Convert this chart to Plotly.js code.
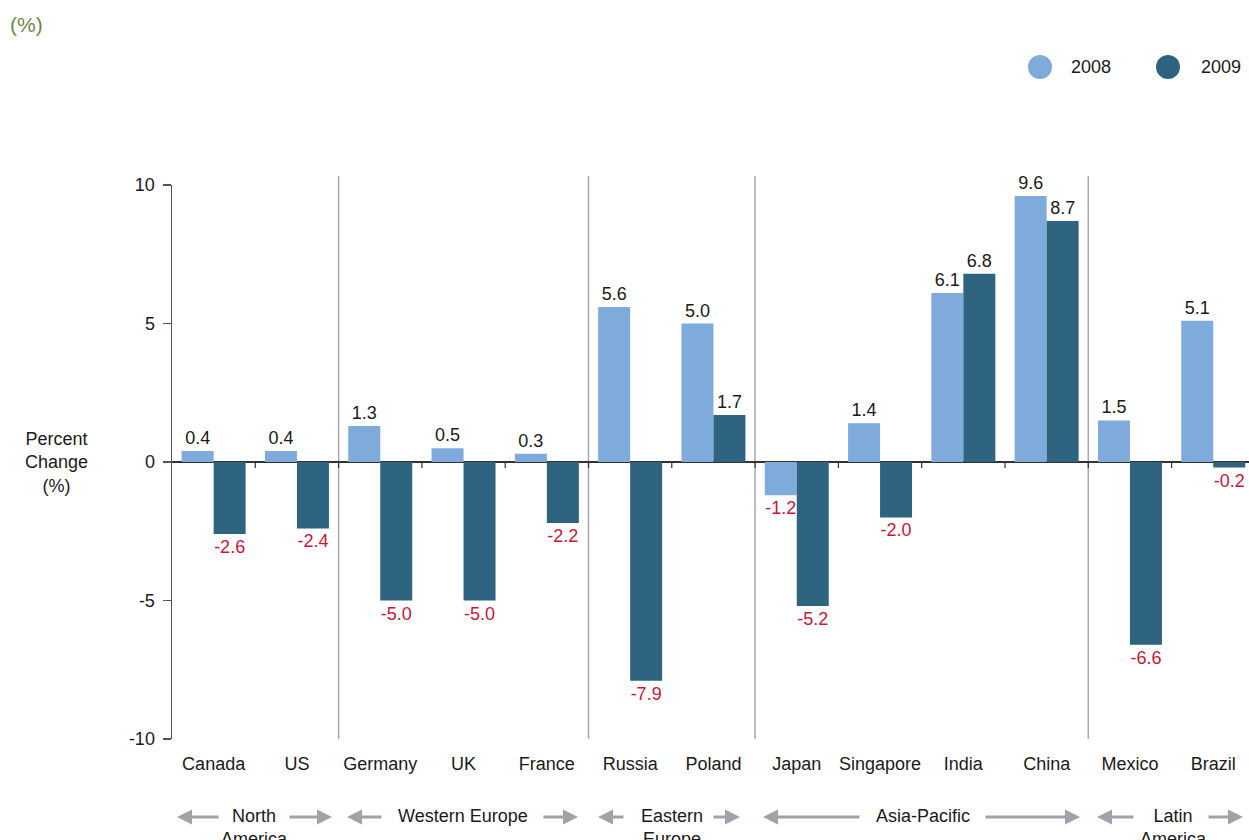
<!DOCTYPE html>
<html>
<head>
<meta charset="utf-8">
<script src="https://cdn.plot.ly/plotly-3.0.1.min.js"></script>
<style>
  html, body { margin: 0; padding: 0; background: #fff; }
  #chart { width: 1249px; height: 840px; }
</style>
</head>
<body>
<div id="chart"></div>
<script>
// ---------------- DATA ----------------
const countries = ["Canada", "US", "Germany", "UK", "France", "Russia", "Poland",
                   "Japan", "Singapore", "India", "China", "Mexico", "Brazil"];
const values2008 = [0.4, 0.4, 1.3, 0.5, 0.3, 5.6, 5.0, -1.2, 1.4, 6.1, 9.6, 1.5, 5.1];
const values2009 = [-2.6, -2.4, -5.0, -5.0, -2.2, -7.9, 1.7, -5.2, -2.0, 6.8, 8.7, -6.6, -0.2];
const seriesNames = ["2008", "2009"];
const groupNames = ["North<br>America", "Western Europe", "Eastern<br>Europe", "Asia-Pacific", "Latin<br>America"];
const groupSizes = [2, 3, 2, 4, 2];
const yTickValues = [-10, -5, 0, 5, 10];

// ---------------- STYLE ----------------
const FONT = "Liberation Sans, Arial, Helvetica, sans-serif";
const C2008 = "#7eaadc";
const C2009 = "#2e6480";
const POS_TXT = "#1a1a1a";
const NEG_TXT = "#c8153c";
const ARROW = "#9ea3aa";

const W = 1249, H = 840;
const ML = 172, MT = 185, PLOT_H = 554;
const PLOT_W = W - ML;
const CAT_W = 83.3;
const px = p => (p - ML) / PLOT_W;
const py = p => (MT + PLOT_H - p) / PLOT_H;

const labelColors = arr => arr.map(v => v < 0 ? NEG_TXT : POS_TXT);

const traces = [
  {
    type: "bar", name: seriesNames[0], x: countries, y: values2008,
    marker: { color: C2008 },
    texttemplate: "%{y:.1f}", textposition: "outside",
    textfont: { family: FONT, size: 18, color: labelColors(values2008) },
    constraintext: "none", cliponaxis: false, hoverinfo: "x+y"
  },
  {
    type: "bar", name: seriesNames[1], x: countries, y: values2009,
    marker: { color: C2009 },
    texttemplate: "%{y:.1f}", textposition: "outside",
    textfont: { family: FONT, size: 18, color: labelColors(values2009) },
    constraintext: "none", cliponaxis: false, hoverinfo: "x+y"
  }
];

const shapes = [];
const annotations = [];

// group separators (from group sizes)
let acc = 0;
const groupStarts = [];
groupSizes.forEach((n, i) => {
  groupStarts.push(acc);
  acc += n;
  if (i < groupSizes.length - 1) {
    shapes.push({ type: "line", xref: "x", yref: "paper", x0: acc - 0.5, x1: acc - 0.5,
      y0: 0, y1: py(176), line: { color: "#a8a8a8", width: 1.5 }, layer: "below" });
  }
});

// small ticks on the zero line at every category boundary
for (let k = 0; k < countries.length - 1; k++) {
  shapes.push({ type: "line", xref: "x", yref: "y", x0: k + 0.5, x1: k + 0.5,
    ysizemode: "pixel", yanchor: 0, y0: -6, y1: 0, line: { color: "#333", width: 1.2 } });
}

// legend (circles + text)
const legendItems = [
  { name: seriesNames[0], color: C2008, cx: 1040, tx: 1069 },
  { name: seriesNames[1], color: C2009, cx: 1168, tx: 1199 }
];
legendItems.forEach(it => {
  shapes.push({ type: "circle", xref: "paper", yref: "paper",
    xsizemode: "pixel", ysizemode: "pixel", xanchor: px(it.cx), yanchor: py(67),
    x0: -12, x1: 12, y0: -12, y1: 12, fillcolor: it.color, line: { width: 0 } });
  annotations.push({ xref: "paper", yref: "paper", x: px(it.tx), y: py(67),
    xanchor: "left", yanchor: "middle", text: it.name, showarrow: false,
    font: { family: FONT, size: 18, color: "#1a1a1a" } });
});

// top-left unit and y title
annotations.push({ xref: "paper", yref: "paper", x: px(8), y: py(25), xanchor: "left", yanchor: "middle",
  text: "(%)", showarrow: false, font: { family: FONT, size: 21, color: "#6b8a4a" } });
annotations.push({ xref: "paper", yref: "paper", x: px(57), y: py(462), xanchor: "center", yanchor: "middle",
  text: "Percent<br>Change<br>(%)", showarrow: false, align: "center",
  font: { family: FONT, size: 18, color: "#1a1a1a" } });

// region labels with arrows
const groupDecor = [
  { cx: 254,  arrows: [[220, 177], [288, 332]] },
  { cx: 463,  arrows: [[383, 347], [542, 578]] },
  { cx: 672,  arrows: [[625, 598], [712, 740]] },
  { cx: 923,  arrows: [[861, 763], [984, 1080]] },
  { cx: 1173, arrows: [[1135, 1097], [1207, 1243]] }
];
const ARROW_Y = 817;
groupNames.forEach((g, i) => {
  const d = groupDecor[i];
  annotations.push({ xref: "paper", yref: "paper", x: px(d.cx), y: py(ARROW_Y - 13),
    xanchor: "center", yanchor: "top", text: g, showarrow: false, align: "center",
    font: { family: FONT, size: 18, color: "#1a1a1a" } });
  d.arrows.forEach(([tail, tip]) => {
    annotations.push({ xref: "paper", yref: "paper", x: px(tip), y: py(ARROW_Y),
      ax: tail - tip, ay: 0, axref: "pixel", ayref: "pixel", text: "",
      showarrow: true, arrowhead: 2, arrowsize: 1, arrowwidth: 3, arrowcolor: ARROW, standoff: 0 });
  });
});

const layout = {
  width: W, height: H,
  margin: { l: ML, r: 0, t: MT, b: H - MT - PLOT_H, pad: 0 },
  paper_bgcolor: "#fff", plot_bgcolor: "rgba(0,0,0,0)",
  showlegend: false,
  barmode: "group", bargap: 0.232, bargroupgap: 0,
  font: { family: FONT, size: 18, color: "#1a1a1a" },
  xaxis: {
    type: "category", range: [-0.5, -0.5 + PLOT_W / CAT_W],
    showgrid: false, zeroline: false, showline: false, ticks: "",
    tickfont: { family: FONT, size: 18, color: "#1a1a1a" },
    ticklabelstandoff: 12, fixedrange: true
  },
  yaxis: {
    range: [-10, 10], tickvals: yTickValues, ticktext: yTickValues.map(String),
    showgrid: false, zeroline: true, zerolinecolor: "#333", zerolinewidth: 1.5,
    showline: true, linecolor: "#555", linewidth: 1.5,
    ticks: "outside", ticklen: 8, tickcolor: "#555", tickwidth: 1.2,
    tickfont: { family: FONT, size: 18, color: "#1a1a1a" },
    ticklabelstandoff: 4, fixedrange: true
  },
  shapes: shapes,
  annotations: annotations
};

Plotly.newPlot("chart", traces, layout, { displayModeBar: false, staticPlot: true });
</script>
</body>
</html>
